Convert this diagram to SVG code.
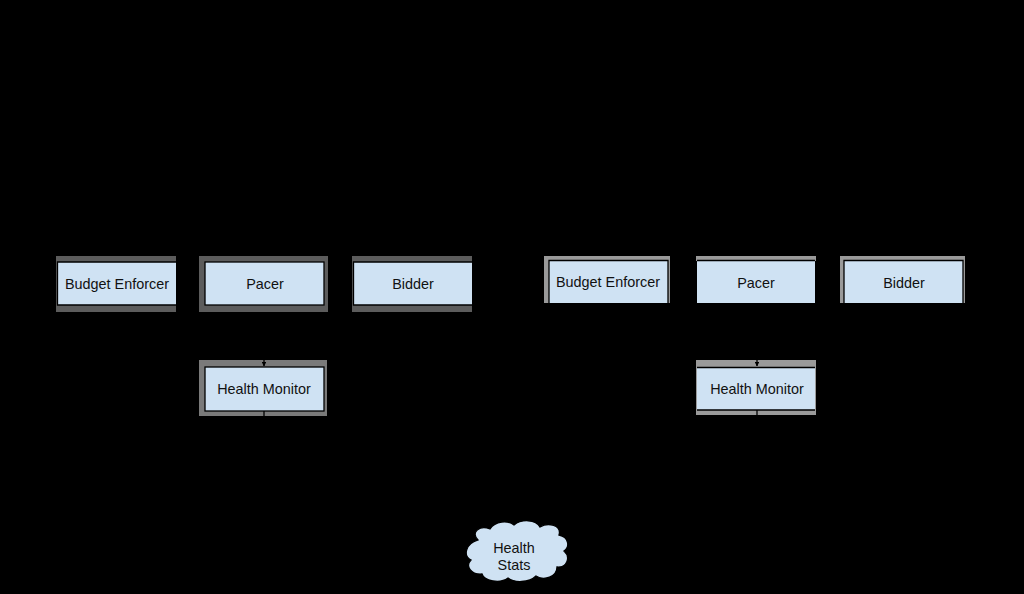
<svg xmlns="http://www.w3.org/2000/svg" width="1024" height="594" viewBox="0 0 1024 594">
  <defs>
    <style>
      .box { fill: #cfe2f3; }
      .edge { fill: none; stroke: #000; stroke-width: 1.3; }
      .haloL { fill: #5c5c5c; }
      .haloL2 { fill: #7a7a7a; }
      .haloR { fill: #9a9a9a; }
      .lbl { font-family: "Liberation Sans", Arial, sans-serif; font-size: 14.4px; fill: #111; text-anchor: middle; }
      .conn { fill: none; stroke: #000; stroke-width: 1.3; }
    </style>
    <marker id="arrow" viewBox="0 0 10 10" refX="9" refY="5" markerWidth="3.5" markerHeight="3.5" orient="auto">
      <path d="M0,0 L10,5 L0,10 z" fill="#000"/>
    </marker>
  </defs>
  <rect x="0" y="0" width="1024" height="594" fill="#000"/>

  <!-- Left diagram -->
  <g id="budget-enforcer-left">
    <rect class="haloL" x="56" y="256" width="120" height="56"/>
    <rect class="box" x="57" y="262" width="119" height="43"/>
    <path class="edge" d="M176,262 H57.5 V305 H176"/>
    <text class="lbl" x="117" y="289">Budget Enforcer</text>
  </g>
  <g id="pacer-left">
    <rect class="haloL" x="199" y="256" width="129" height="56"/>
    <rect class="box" x="205" y="262" width="119" height="43"/>
    <rect class="edge" x="205" y="262" width="119" height="43"/>
    <text class="lbl" x="265" y="289">Pacer</text>
  </g>
  <g id="bidder-left">
    <rect class="haloL" x="352" y="256" width="120" height="56"/>
    <rect class="box" x="353" y="262" width="119" height="43"/>
    <path class="edge" d="M472,262 H353.5 V305 H472"/>
    <text class="lbl" x="413" y="289">Bidder</text>
  </g>
  <g id="health-monitor-left">
    <rect class="haloL2" x="199" y="360" width="128" height="56"/>
    <rect class="box" x="205" y="367" width="119" height="44"/>
    <rect class="edge" x="205" y="367" width="119" height="44"/>
    <text class="lbl" x="264" y="394">Health Monitor</text>
  </g>

  <!-- Right diagram -->
  <g id="budget-enforcer-right">
    <rect class="haloR" x="544" y="256" width="126" height="47"/>
    <rect class="box" x="549" y="260" width="119" height="43"/>
    <path class="edge" d="M549,303 V260.5 H668 V303"/>
    <text class="lbl" x="608" y="287">Budget Enforcer</text>
  </g>
  <g id="pacer-right">
    <rect class="haloR" x="696" y="256" width="120" height="5"/>
    <rect class="box" x="697" y="260" width="118" height="43"/>
    <path class="edge" d="M697,260.5 H815"/>
    <text class="lbl" x="756" y="288">Pacer</text>
  </g>
  <g id="bidder-right">
    <rect class="haloR" x="840" y="256" width="125" height="47"/>
    <rect class="box" x="844" y="260" width="119" height="43"/>
    <path class="edge" d="M844,303 V260.5 H963 V303"/>
    <text class="lbl" x="904" y="288">Bidder</text>
  </g>
  <g id="health-monitor-right">
    <rect class="haloR" x="696" y="360" width="120" height="55"/>
    <rect class="box" x="697" y="367" width="118" height="43"/>
    <path class="edge" d="M697,367.5 H815 M697,410 H815"/>
    <text class="lbl" x="757" y="394">Health Monitor</text>
  </g>

  <!-- Cloud -->
  <g id="health-stats">
    <path d="M478,540 C470,532 480,525 490,529 C495,521 508,520 514,525 C521,519 536,519 540,527 C548,522 562,525 559,535 C569,537 570,547 564,551 C571,557 567,568 557,567 C557,577 544,581 536,576 C529,583 514,583 508,578 C500,584 484,581 482,574 C471,575 465,566 471,560 C463,556 465,544 478,540 Z" fill="#cfe2f3" stroke="#000" stroke-width="1.3"/>
    <text class="lbl" x="514" y="553">Health</text>
    <text class="lbl" x="514" y="570">Stats</text>
  </g>

  <!-- Connectors -->
  <g id="connectors">
    <path class="conn" d="M264,312 V366" marker-end="url(#arrow)"/>
    <path class="conn" d="M264,411 V555 H467" marker-end="url(#arrow)"/>
    <path class="conn" d="M757,303 V366" marker-end="url(#arrow)"/>
    <path class="conn" d="M757,410 V555 H568" marker-end="url(#arrow)"/>
  </g>
</svg>
